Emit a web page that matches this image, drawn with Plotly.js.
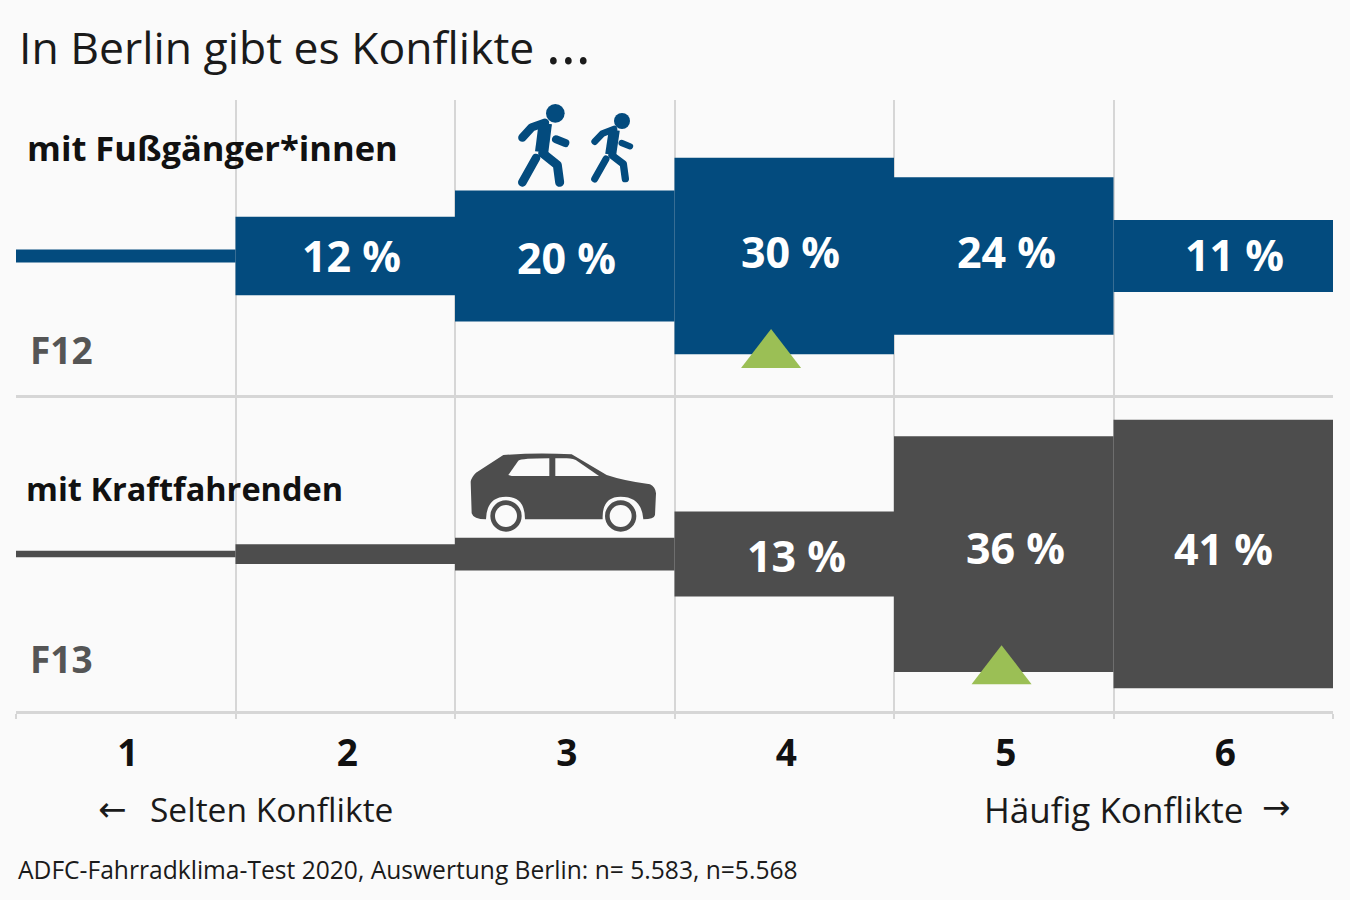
<!DOCTYPE html>
<html>
<head>
<meta charset="utf-8">
<script src="https://cdn.plot.ly/plotly-3.0.1.min.js"></script>
<style>
  html, body { margin: 0; padding: 0; background: #fafafa; }
</style>
</head>
<body>
<div id="plot" style="width:1350px;height:900px;"></div>
<script>
// Daten
const stufen = [1, 2, 3, 4, 5, 6];
const stufenGrenzen = [0.5, 1.5, 2.5, 3.5, 4.5, 5.5, 6.5];
const fussgaenger = [2, 12, 20, 30, 24, 11];
const kraftfahrende = [1, 3, 5, 13, 36, 41];
const mittelFussgaenger = 3.94;
const mittelKraftfahrende = 4.99;

const titel = 'In Berlin gibt es Konflikte <span style="font-size:58px">…</span>';
const quelle = 'ADFC-Fahrradklima-Test 2020, Auswertung Berlin: n= 5.583, n=5.568';

const BLAU = '#034b7e';
const GRAU = '#4d4d4d';
const GRUEN = '#9bbf55';
const LINIE = '#d6d6d6';
const BG = '#fafafa';
const FONT = '"Open Sans", sans-serif';

// Balken laufen symmetrisch um die Mittellinie der Zeile
function balken(werte, farbe, xa, ya) {
  return {
    type: 'bar', x: stufen, y: werte, base: werte.map(v => -v / 2), width: 1,
    marker: { color: farbe, line: { width: 0 } },
    xaxis: xa, yaxis: ya, hoverinfo: 'skip', showlegend: false
  };
}

function mittelwert(x, y, xa, ya) {
  return {
    type: 'scatter', mode: 'markers', x: [x], y: [y],
    marker: { symbol: 'triangle-up', size: 52, color: GRUEN, line: { width: 0 } },
    xaxis: xa, yaxis: ya, hoverinfo: 'skip', showlegend: false
  };
}

const data = [
  balken(fussgaenger, BLAU, 'x', 'y'),
  balken(kraftfahrende, GRAU, 'x2', 'y2'),
  mittelwert(mittelFussgaenger, -15.1, 'x', 'y'),
  mittelwert(mittelKraftfahrende, -17.9, 'x2', 'y2')
];

// Pixel der Vorlage nach paper-Koordinaten
const px = v => v / 1350;
const py = v => 1 - v / 900;

function text(t, x, y, size, farbe, family) {
  return {
    text: t, xref: 'paper', yref: 'paper', x: px(x), y: py(y),
    xanchor: 'left', yanchor: 'middle', showarrow: false,
    font: { family: family || FONT, size: size, color: farbe || '#1a1a1a' }
  };
}

function wertLabel(v, i, xa, ya, dx, dy) {
  return {
    text: '<b>' + v + ' %</b>', xref: xa, yref: ya, x: stufen[i], y: 0,
    xshift: dx, yshift: dy, showarrow: false,
    font: { family: FONT, size: 43, color: '#ffffff' }
  };
}

const annotations = [
  text('<b>mit Fußgänger*innen</b>', 25, 148, 34.5, '#111111'),
  text('<b>mit Kraftfahrenden</b>', 24, 488, 32.5, '#111111'),
  text('<b>F12</b>', 28, 350, 37, '#555555'),
  text('<b>F13</b>', 28, 658, 37, '#555555'),
  text('Selten Konflikte', 148, 809, 33.5),
  text('Häufig Konflikte', 982, 809, 35),
  text('←', 96, 809, 34, '#1a1a1a', '"DejaVu Sans", sans-serif'),
  text('→', 1260, 807, 34, '#1a1a1a', '"DejaVu Sans", sans-serif'),
  text(quelle, 16, 869, 24.6),
  wertLabel(fussgaenger[1], 1, 'x', 'y', 6, 1),
  wertLabel(fussgaenger[2], 2, 'x', 'y', 2, -1),
  wertLabel(fussgaenger[3], 3, 'x', 'y', 6, 5),
  wertLabel(fussgaenger[4], 4, 'x', 'y', 3, 5),
  wertLabel(fussgaenger[5], 5, 'x', 'y', 11, 2),
  wertLabel(kraftfahrende[3], 3, 'x2', 'y2', 12, -1),
  wertLabel(kraftfahrende[4], 4, 'x2', 'y2', 11.5, 7),
  wertLabel(kraftfahrende[5], 5, 'x2', 'y2', 0, 6)
];

// Piktogramme
const laeufer = `<svg xmlns="http://www.w3.org/2000/svg" viewBox="0 0 720 360" width="720" height="360">
<g fill="none" stroke="${BLAU}" stroke-linecap="round" stroke-linejoin="round">
<circle cx="316" cy="70" r="28" fill="${BLAU}" stroke="none"/>
<path stroke-width="25" d="M217 143 L245 112 L285 98"/>
<path stroke-width="40" stroke-linecap="butt" d="M286 100 L275 186"/>
<path stroke-width="24" d="M318 148 L346 159"/>
<path stroke-width="26" d="M258 204 L217 277"/>
<path stroke-width="27" d="M278 190 L322 225 L329 277"/>
<circle cx="516" cy="93" r="24" fill="${BLAU}" stroke="none"/>
<path stroke-width="20" d="M434 155 L457 131 L492 117"/>
<path stroke-width="33" stroke-linecap="butt" d="M493 120 L482 194"/>
<path stroke-width="19" d="M515 159 L540 169"/>
<path stroke-width="21" d="M468 207 L434 267"/>
<path stroke-width="22" d="M486 196 L520 222 L526 266"/>
</g></svg>`;

const auto = `<svg xmlns="http://www.w3.org/2000/svg" viewBox="0 0 720 330" width="720" height="330">
<path fill="${GRAU}" d="M62 125 Q64 112 78 98 L160 45 Q260 37 365 43 L470 105 Q520 122 600 133 Q616 140 618 160 L615 225 Q612 238 580 238 Q575 170 512 170 Q455 170 458 238 L225 238 Q225 170 168 170 Q110 170 108 238 Q70 238 65 220 Z"/>
<path fill="${BG}" d="M175 105 L205 62 Q215 55 298 55 L298 108 L185 108 Z"/>
<path fill="${BG}" d="M316 55 L350 55 Q370 55 385 65 L447 108 L316 108 Z"/>
<circle cx="168" cy="228" r="40" fill="${BG}" stroke="${GRAU}" stroke-width="14"/>
<circle cx="512" cy="228" r="40" fill="${BG}" stroke="${GRAU}" stroke-width="14"/>
</svg>`;

function bild(svg, x, y, b, h) {
  return {
    source: 'data:image/svg+xml;utf8,' + encodeURIComponent(svg),
    xref: 'paper', yref: 'paper', x: px(x), y: py(y), sizex: b / 1350, sizey: h / 900,
    xanchor: 'left', yanchor: 'top', sizing: 'stretch', layer: 'above'
  };
}

const xBasis = {
  range: [0.5, 6.5], domain: [px(16), px(1333)], fixedrange: true,
  showline: true, linecolor: LINIE, linewidth: 3, zeroline: false,
  tickmode: 'array', showgrid: false
};

const layout = {
  width: 1350, height: 900,
  margin: { l: 0, r: 0, t: 0, b: 0 },
  paper_bgcolor: BG, plot_bgcolor: BG,
  barmode: 'overlay', dragmode: false, showlegend: false,
  title: {
    text: titel, x: px(19), xanchor: 'left', y: py(48), yanchor: 'middle',
    font: { family: FONT, size: 44.5, color: '#1a1a1a' }
  },
  xaxis: Object.assign({}, xBasis, {
    anchor: 'y', tickvals: [], showticklabels: false,
    minor: { tickmode: 'array', tickvals: stufenGrenzen, showgrid: true, gridcolor: LINIE, gridwidth: 2, ticks: '' }
  }),
  yaxis: { domain: [py(395), py(100)], range: [-21.2, 23.8], visible: false, fixedrange: true },
  xaxis2: Object.assign({}, xBasis, {
    anchor: 'y2', tickvals: stufen, ticktext: stufen.map(s => '<b>' + s + '</b>'), ticks: '',
    ticklabelstandoff: 8, ticklabelshift: 2,
    tickfont: { family: FONT, size: 37, color: '#111111' },
    minor: { tickmode: 'array', tickvals: stufenGrenzen, showgrid: true, gridcolor: LINIE, gridwidth: 2,
      ticks: 'outside', ticklen: 5, tickwidth: 2, tickcolor: LINIE }
  }),
  yaxis2: { domain: [py(710.5), py(395)], range: [-23.9, 24.3], visible: false, fixedrange: true },
  annotations: annotations,
  images: [bild(laeufer, 450, 90, 240, 120), bild(auto, 450, 440, 240, 110)]
};

Plotly.newPlot('plot', data, layout, { displayModeBar: false, staticPlot: true });
</script>
</body>
</html>
